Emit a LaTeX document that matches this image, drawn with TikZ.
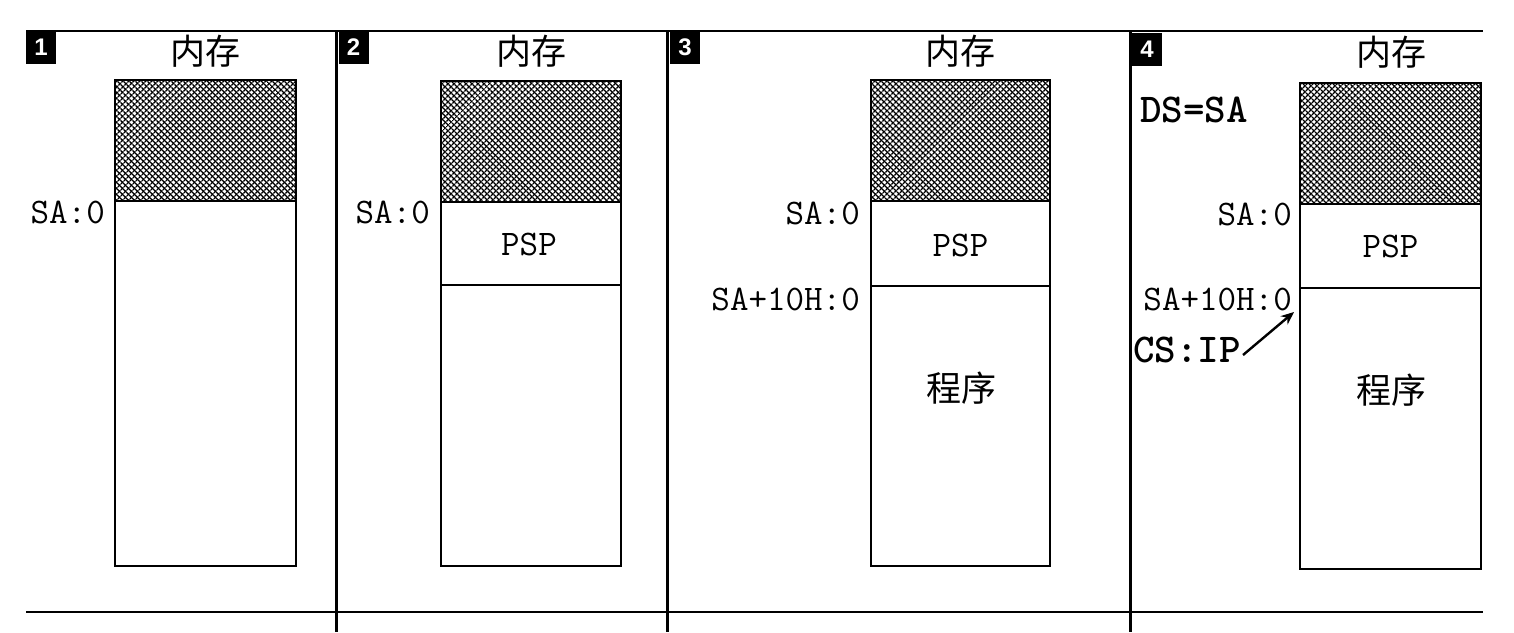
\documentclass[tikz,border=0pt]{standalone}
\usepackage{fontspec}
\usetikzlibrary{patterns.meta,arrows.meta}
\newfontfamily\cjk{Noto Sans CJK SC}
\newfontfamily\numf{Liberation Sans}
\tikzset{
 frame/.style={line width=3pt},
 hline/.style={line width=2.5pt},
 mem/.style={line width=1.5pt},
 hatchA/.style={pattern={Lines[angle=45,distance=4pt,line width=1.5pt]}},
 hatchB/.style={pattern={Lines[angle=-45,distance=4pt,line width=1.5pt]}},
 numbox/.style={fill=black,text=white,minimum width=30pt,minimum height=33pt,inner sep=0pt,font=\numf\bfseries\fontsize{24}{24}\selectfont},
 cjklab/.style={inner sep=0pt,font=\cjk\fontsize{35}{35}\selectfont},
 addr/.style={inner sep=0pt,anchor=base east,font=\ttfamily\fontsize{36}{36}\selectfont},
 reg/.style={inner sep=0pt,anchor=base west,font=\ttfamily\bfseries\fontsize{41}{41}\selectfont},
 psp/.style={inner sep=0pt,anchor=base,font=\ttfamily\fontsize{36}{36}\selectfont},
 ptr/.style={line width=2.4pt,-{Stealth[length=13pt,width=11pt]}},
}
\begin{document}
\begin{tikzpicture}[x=1pt,y=-1pt]
\useasboundingbox (0,0) rectangle (1514,632);
\fill[white] (0,0) rectangle (1514,632);
% frame lines
\draw[hline] (26,31) -- (1483,31);
\draw[hline] (26,612) -- (1483,612);
\draw[frame] (336.5,31) -- (336.5,632);
\draw[frame] (667,31) -- (667,632);
\draw[frame] (1130,31) -- (1130,632);
% number boxes
\node[numbox] (n1) at (41,47.5) {1};
\node[numbox] (n2) at (353.5,47.5) {2};
\node[numbox] (n3) at (685,47.5) {3};
\node[numbox] (n4) at (1147,49) {4};
% panel 1
\path[hatchA] (115,80) rectangle (296,201);
\path[hatchB] (115,80) rectangle (296,201);
\draw[mem] (115,80) rectangle (296,566);
\draw[mem] (115,201) -- (296,201);
\node[cjklab] (m1) at (205.5,51) {内存};
\node[addr] (sa1) at (105,223) {SA:0};
% panel 2
\path[hatchA] (441,81) rectangle (621,202);
\path[hatchB] (441,81) rectangle (621,202);
\draw[mem] (441,81) rectangle (621,566);
\draw[mem] (441,202) -- (621,202);
\draw[mem] (441,285) -- (621,285);
\node[cjklab] (m2) at (531,51) {内存};
\node[addr] (sa2) at (430,223) {SA:0};
\node[psp] (psp2) at (529,255) {PSP};
% panel 3
\path[hatchA] (871,80) rectangle (1050,201);
\path[hatchB] (871,80) rectangle (1050,201);
\draw[mem] (871,80) rectangle (1050,566);
\draw[mem] (871,201) -- (1050,201);
\draw[mem] (871,286) -- (1050,286);
\node[cjklab] (m3) at (960.5,51) {内存};
\node[addr] (sa3) at (860,224) {SA:0};
\node[addr] (sb3) at (860,310) {SA+10H:0};
\node[psp] (psp3) at (960.5,256) {PSP};
\node[cjklab] (pg3) at (961,388) {程序};
% panel 4
\path[hatchA] (1300,83) rectangle (1481,204);
\path[hatchB] (1300,83) rectangle (1481,204);
\draw[mem] (1300,83) rectangle (1481,569);
\draw[mem] (1300,204) -- (1481,204);
\draw[mem] (1300,288) -- (1481,288);
\node[cjklab] (m4) at (1391,52) {内存};
\node[addr] (sa4) at (1292,225) {SA:0};
\node[addr] (sb4) at (1292,310) {SA+10H:0};
\node[psp] (psp4) at (1390.5,257) {PSP};
\node[cjklab] (pg4) at (1391,390) {程序};
\node[reg] (ds) at (1140,122) {DS=SA};
\node[reg] (csip) at (1133,362) {CS:IP};
\coordinate (tip) at (1294,312);
\draw[ptr] ([shift={(2,-7)}]csip.base east) -- (tip);
\end{tikzpicture}
\end{document}
